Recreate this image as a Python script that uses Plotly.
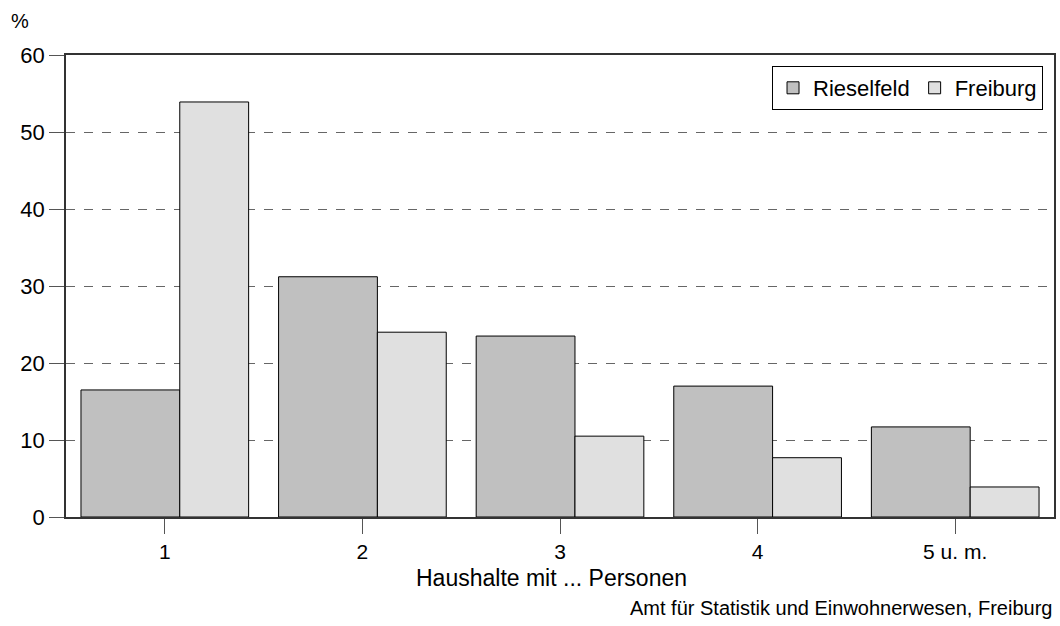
import plotly.graph_objects as go

categories = ["1", "2", "3", "4", "5 u. m."]
rieselfeld = [16.5, 31.2, 23.5, 17.0, 11.7]
freiburg = [53.9, 24.0, 10.5, 7.7, 3.9]
y_ticks = [0, 10, 20, 30, 40, 50, 60]

FONT = "Liberation Sans, Arial, sans-serif"
xpos = list(range(1, len(categories) + 1))

W, H = 1060, 626
L, R, T, B = 66, 4, 55, 109
pw = W - L - R
ph = H - T - B


def px_to_paper(px, py):
    return (px - L) / pw, (H - B - py) / ph


fig = go.Figure()
fig.add_trace(go.Bar(
    x=xpos, y=rieselfeld, name="Rieselfeld",
    offset=-0.4242, width=0.5,
    marker=dict(color="#c0c0c0", line=dict(color="#000000", width=1)),
))
fig.add_trace(go.Bar(
    x=xpos, y=freiburg, name="Freiburg",
    offset=0.0758, width=0.3485,
    marker=dict(color="#e0e0e0", line=dict(color="#000000", width=1)),
))

lx, ly = px_to_paper(1045, 66)
fig.update_layout(
    width=W, height=H,
    margin=dict(l=L, r=R, t=T, b=B),
    paper_bgcolor="white", plot_bgcolor="white",
    barmode="overlay",
    font=dict(family=FONT, size=21, color="#000000"),
    showlegend=True,
    legend=dict(
        orientation="h", x=lx, y=ly, xanchor="right", yanchor="top",
        bgcolor="white", bordercolor="#000000", borderwidth=1,
        font=dict(family=FONT, size=22), traceorder="normal",
        itemwidth=30,
    ),
    xaxis=dict(
        range=[0.5, 5.5], tickmode="array", tickvals=xpos, ticktext=categories,
        showgrid=False, zeroline=False,
        ticks="outside", ticklen=15, tickcolor="#555555", tickwidth=1,
        showline=True, linecolor="#333333", linewidth=1.5, mirror=True,
        tickfont=dict(size=21),
    ),
    yaxis=dict(
        range=[0, 60], tickmode="array", tickvals=y_ticks,
        showgrid=True, gridcolor="#666666", griddash="dash", gridwidth=1,
        zeroline=False,
        ticks="outside", ticklen=15, tickcolor="#555555", tickwidth=1,
        showline=True, linecolor="#333333", linewidth=1.5, mirror=True,
        tickfont=dict(size=22),
    ),
)

ax, ay = px_to_paper(20, 21)
tx, ty = px_to_paper(552, 578)
sx, sy = px_to_paper(1056, 608)
fig.add_annotation(text="%", x=ax, y=ay, xref="paper", yref="paper",
                   xanchor="center", yanchor="middle", showarrow=False,
                   font=dict(size=20))
fig.add_annotation(text="Haushalte mit ... Personen", x=tx, y=ty,
                   xref="paper", yref="paper",
                   xanchor="center", yanchor="middle", showarrow=False,
                   font=dict(size=23))
fig.add_annotation(text="Amt für Statistik und Einwohnerwesen, Freiburg",
                   x=sx, y=sy, xref="paper", yref="paper",
                   xanchor="right", yanchor="middle", showarrow=False,
                   font=dict(size=20))

fig.write_html("out.html", config={"displayModeBar": False},
               post_script="document.body.style.margin='0';")
